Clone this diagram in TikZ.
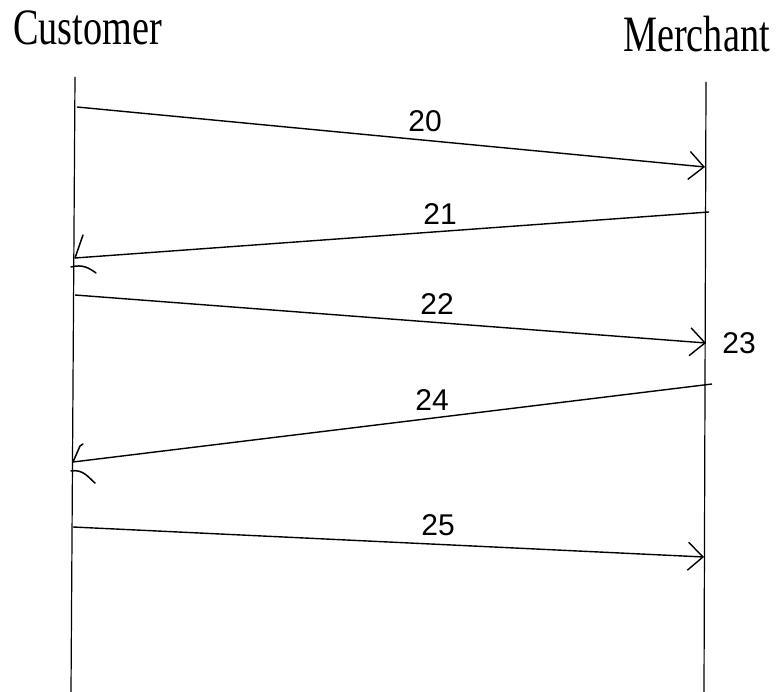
\documentclass[tikz,border=0pt]{standalone}
\usepackage{fontspec}
\setmainfont{Liberation Serif}
\newfontfamily\handfont{Liberation Sans}
\usetikzlibrary{arrows.meta}
\begin{document}
\begin{tikzpicture}[x=1pt,y=-1pt,
  lifeline/.style={line width=1.2pt},
  msg/.style={line width=1.4pt},
  rarrow/.style={msg,-{Straight Barb[length=15pt,width=28pt,line width=1.4pt]}},
  barb/.style={line width=1.5pt, line cap=round},
  head/.style={font=\fontsize{51}{51}\selectfont, inner sep=0pt},
  numlbl/.style={font=\handfont\fontsize{30}{30}\selectfont, inner sep=0pt}]
\useasboundingbox (0,0) rectangle (779,692);

% headers
\node[head, anchor=base west] (cust) at (13,45) {\scalebox{0.75}[1]{Customer}};
\node[head, anchor=base east] (merch) at (770,52) {\scalebox{0.75}[1]{Merchant}};

% lifelines
\coordinate (ctop) at (75,77);
\coordinate (cbot) at (71,692);
\coordinate (mtop) at (706,82);
\coordinate (mbot) at (704,692);
\draw[lifeline] (ctop) -- (cbot);
\draw[lifeline] (mtop) -- (mbot);

% message end points
\coordinate (m20s) at (77,107);  \coordinate (m20e) at (705,167);
\coordinate (m21s) at (709,212); \coordinate (m21e) at (75,258);
\coordinate (m22s) at (75,295);  \coordinate (m22e) at (706,343);
\coordinate (m24s) at (712,384); \coordinate (m24e) at (73,462);
\coordinate (m25s) at (73,527);  \coordinate (m25e) at (704,557);

% messages
\draw[rarrow] (m20s) -- (m20e);
\draw[msg] (m21s) -- (m21e);
\draw[rarrow] (m22s) -- (m22e);
\draw[msg] (m24s) -- (m24e);
\draw[rarrow] (m25s) -- (m25e);

% hand-drawn left arrow heads
\draw[barb] (m21e) -- +(8,-23);
\draw[barb] (m21e) ++(-4,9) .. controls +(12,-3) and +(-7,-5) .. +(25,6);
\draw[barb] (m24e) -- +(7,-16) -- +(10,-18);
\draw[barb] (m24e) ++(-2,9) .. controls +(12,-2) and +(-7,-6) .. +(24,12);

% labels
\node[numlbl] (l20) at (425,121) {20};
\node[numlbl] (l21) at (440,214) {21};
\node[numlbl] (l22) at (437,304) {22};
\node[numlbl] (l23) at (739,343) {23};
\node[numlbl] (l24) at (432,400) {24};
\node[numlbl] (l25) at (438,525) {25};
\end{tikzpicture}
\end{document}
